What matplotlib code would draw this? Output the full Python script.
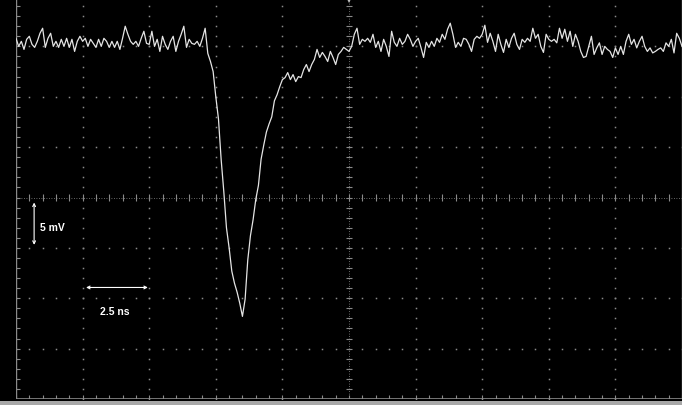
import numpy as np
import matplotlib.pyplot as plt
from matplotlib.patches import Rectangle

# scope settings: 2.5 ns/div, 5 mV/div, 10 x 8 divisions
ns_per_div = 2.5
mv_per_div = 5
sample_step_ns = 0.1

# trace, one row per ns (mV)
voltage_mv = [
    15.8, 15.0, 15.5, 14.7, 15.7, 16.0, 15.2, 14.9, 15.5, 16.3,
    16.8, 14.9, 15.8, 16.3, 15.0, 15.5, 14.9, 15.7, 15.0, 15.8,
    14.9, 15.7, 14.5, 15.5, 16.0, 15.5, 15.8, 15.0, 15.7, 15.3,
    14.9, 15.7, 15.0, 15.8, 15.5, 14.9, 15.5, 14.9, 15.5, 14.7,
    15.8, 17.0, 16.2, 15.5, 15.2, 15.5, 15.0, 15.8, 16.5, 15.3,
    15.2, 16.5, 15.0, 15.7, 14.5, 16.0, 15.2, 14.7, 15.5, 16.0,
    14.5, 15.5, 16.2, 17.0, 14.9, 15.7, 15.3, 15.2, 15.5, 15.0,
    15.8, 16.8, 14.3, 13.5, 12.5, 10.0, 7.8, 3.8, 0.6, -3.0,
    -5.0, -7.3, -8.5, -9.4, -10.5, -11.8, -10.1, -6.2, -3.8, -2.2,
    -0.2, 1.2, 3.8, 5.2, 6.5, 7.3, 8.0, 9.6, 10.2, 11.0,
    11.7, 11.9, 12.4, 11.7, 12.2, 11.5, 12.0, 11.9, 12.7, 13.2,
    12.5, 13.2, 13.7, 14.7, 13.9, 14.4, 14.0, 13.5, 14.5, 13.9,
    13.2, 14.2, 14.5, 14.9, 14.7, 14.5, 15.0, 16.2, 16.8, 15.2,
    15.7, 15.5, 15.8, 15.4, 16.2, 14.9, 15.5, 14.5, 15.7, 15.0,
    14.0, 16.5, 15.4, 15.0, 15.8, 15.2, 15.5, 16.2, 15.7, 15.0,
    15.5, 15.8, 14.9, 13.9, 15.4, 14.9, 15.5, 15.0, 15.8, 15.4,
    16.2, 15.7, 16.7, 17.3, 16.2, 14.9, 15.4, 15.0, 15.8, 15.7,
    15.2, 14.5, 15.7, 16.0, 15.8, 16.2, 17.1, 15.4, 16.3, 15.5,
    14.5, 16.2, 15.2, 14.4, 15.7, 14.9, 15.8, 16.3, 15.2, 14.7,
    15.7, 15.4, 15.8, 15.5, 16.8, 15.8, 16.2, 15.0, 14.4, 16.2,
    15.7, 15.5, 15.7, 15.35, 16.8, 15.8, 16.7, 15.5, 16.5, 15.0,
    16.2, 15.5, 14.5, 13.9, 14.0, 15.0, 16.0, 14.2, 14.85, 15.35,
    14.2, 15.0, 14.7, 14.5, 13.9, 14.85, 14.2, 15.0, 14.2, 15.5,
    16.2, 15.2, 15.7, 14.85, 15.5, 16.0, 15.0, 14.5, 14.85, 14.35,
    14.5, 14.7, 14.85, 14.5, 15.35, 15.0, 15.7, 14.35, 16.3, 15.8,
    15.0,
]
time_ns = np.arange(len(voltage_mv)) * sample_step_ns

scale_v_label = '5 mV'
scale_t_label = '2.5 ns'

grid_color = '#8a8a8a'
trace_color = '#e4e4e4'

fig = plt.figure(figsize=(6.82, 4.06), dpi=100, facecolor='black')
ax = fig.add_axes([16 / 682, 6 / 406, 666 / 682, 403 / 406])
ax.set_facecolor('black')
t_max = 10 * ns_per_div
v_max = 4 * mv_per_div
ax.set_xlim(0, t_max)
ax.set_ylim(-v_max, v_max)
ax.set_axis_off()

major_t = np.arange(0, t_max + 0.01, ns_per_div)
major_v = np.arange(-v_max, v_max + 0.01, mv_per_div)
minor_t = np.arange(0, t_max + 0.01, ns_per_div / 5)
minor_v = np.arange(-v_max, v_max + 0.01, mv_per_div / 5)

# dotted graticule
for v in major_v[1:-1]:
    if v == 0:
        continue
    ax.plot(minor_t, np.full(len(minor_t), v), ls='none', marker='s', ms=1.1,
            mew=0, color=grid_color)
for t in major_t[1:-1]:
    if t == t_max / 2:
        continue
    ax.plot(np.full(len(minor_v), t), minor_v, ls='none', marker='s', ms=1.1,
            mew=0, color=grid_color)

# center axes with tick marks
ax.axhline(0, color=grid_color, lw=0.6, ls=(0, (1, 2)))
ax.axvline(t_max / 2, color=grid_color, lw=0.6, ls=(0, (1, 2)))
ax.vlines(minor_t, -0.35, 0.35, colors=grid_color, lw=0.8)
ax.hlines(minor_v, t_max / 2 - 0.12, t_max / 2 + 0.12, colors=grid_color, lw=0.8)

# frame with inward ticks
ax.plot([0, 0], [-v_max, v_max], color=grid_color, lw=1.0)
ax.plot([0, t_max], [-v_max, -v_max], color=grid_color, lw=1.2)
ax.plot([t_max, t_max], [-v_max, v_max], color=grid_color, lw=1.0)
ax.hlines(minor_v, 0, 0.15, colors=grid_color, lw=0.8)
ax.vlines(minor_t, -v_max, -v_max + 0.4, colors=grid_color, lw=0.8)

# trace
ax.plot(time_ns, voltage_mv, color=trace_color, lw=0.9)

# trigger marker
ax.plot(t_max / 2, 19.6, marker='v', ms=5, color='#bdbdbd', mew=0, clip_on=False)

# scale annotations
ax.annotate('', xy=(0.68, -0.5), xytext=(0.68, -4.7),
            arrowprops=dict(arrowstyle='<->', color='white', lw=0.8,
                            shrinkA=0, shrinkB=0, mutation_scale=5))
ax.text(0.9, -2.95, scale_v_label, color='white', fontsize=7.5, va='center',
        ha='left', family='Liberation Sans', weight='bold')
ax.annotate('', xy=(2.63, -8.93), xytext=(4.95, -8.93),
            arrowprops=dict(arrowstyle='<->', color='white', lw=0.8,
                            shrinkA=0, shrinkB=0, mutation_scale=5))
ax.text(3.72, -11.3, scale_t_label, color='white', fontsize=7.5, va='center',
        ha='center', family='Liberation Sans', weight='bold')

# bezel strip under the screen
fig.patches.append(Rectangle((0, 0), 1, 4 / 406, transform=fig.transFigure,
                             facecolor='#a8a8a8', edgecolor='none'))

fig.savefig('out.png', dpi=100, facecolor='black')
plt.close(fig)
